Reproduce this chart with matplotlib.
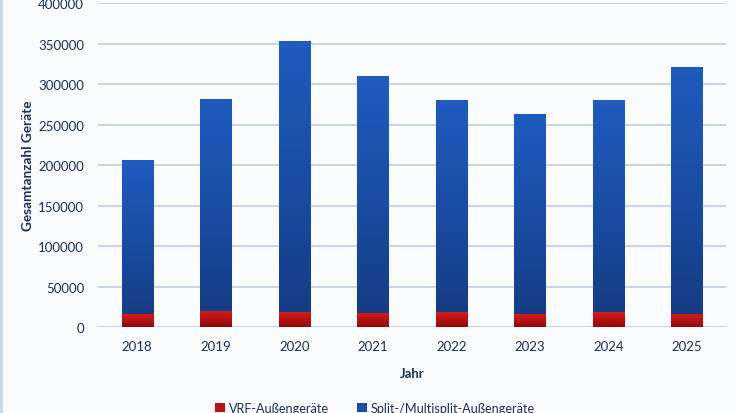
import matplotlib
matplotlib.use("Agg")

import matplotlib.pyplot as plt
import numpy as np
from matplotlib.colors import LinearSegmentedColormap
from matplotlib.lines import Line2D
from matplotlib.patches import Patch

years = ["2018", "2019", "2020", "2021", "2022", "2023", "2024", "2025"]
vrf = [16000, 20000, 18500, 17500, 18500, 16000, 18500, 16000]
split = [190000, 261000, 333500, 291500, 260500, 246000, 260500, 304000]

TEXT = "#1a2f5c"
GRID = "#cad4e8"
BLUE_CM = LinearSegmentedColormap.from_list("b", ["#153d84", "#1a4ea5", "#1f5cbe"])
RED_CM = LinearSegmentedColormap.from_list("r", ["#8a0a0a", "#b81214", "#d41c1c"])

plt.rcParams["font.family"] = ["Lato", "DejaVu Sans"]

fig = plt.figure(figsize=(7.35, 4.14), dpi=100, facecolor="#fbfcfe")
ax = fig.add_axes([0.1333, 0.2077, 0.8545, 0.7826])
ax.set_facecolor("none")

x = np.arange(len(years))
width = 0.4
b1 = ax.bar(x, vrf, width, color="none", label="VRF-Außengeräte", zorder=3)
b2 = ax.bar(x, split, width, bottom=vrf, color="none",
            label="Split-/Multisplit-Außengeräte", zorder=3)

# vertical colour gradient inside every bar
grad = np.linspace(0, 1, 256).reshape(-1, 1)
for bars, cm in ((b1, RED_CM), (b2, BLUE_CM)):
    for p in bars:
        x0, y0 = p.get_x(), p.get_y()
        ax.imshow(grad, cmap=cm, origin="lower", aspect="auto", zorder=2,
                  extent=(x0, x0 + p.get_width(), y0, y0 + p.get_height()))

ax.set_xlim(-0.5, len(years) - 0.5)
ax.set_ylim(0, 400000)
ax.set_yticks(np.arange(0, 400001, 50000))
ax.set_xticks(x)
ax.set_xticklabels(years)
ax.grid(axis="y", color=GRID, linewidth=1.5, zorder=0)
ax.set_axisbelow(True)
for s in ax.spines.values():
    s.set_visible(False)
ax.tick_params(axis="both", length=0, colors=TEXT, labelsize=9.5)
ax.tick_params(axis="y", pad=10)
ax.tick_params(axis="x", pad=9)

ax.set_xlabel("Jahr", fontsize=9.5, fontweight="bold", color=TEXT, labelpad=11)
ax.set_ylabel("Gesamtanzahl Geräte", fontsize=9.8, fontweight="bold", color=TEXT,
              labelpad=3)

handles = [Patch(facecolor="#b81214"), Patch(facecolor="#1b4fa6")]
fig.legend(handles, ["VRF-Außengeräte", "Split-/Multisplit-Außengeräte"],
           loc="center", bbox_to_anchor=(0.51, 0.012), ncol=2, frameon=False,
           fontsize=9.1, labelcolor=TEXT, handlelength=0.8, handleheight=0.8,
           handletextpad=0.3, columnspacing=2.2)

fig.add_artist(Line2D([0.002, 0.002], [0, 1], color="#c5d3ea", linewidth=2,
                      transform=fig.transFigure))

fig.savefig("out.png", dpi=100, facecolor=fig.get_facecolor())
